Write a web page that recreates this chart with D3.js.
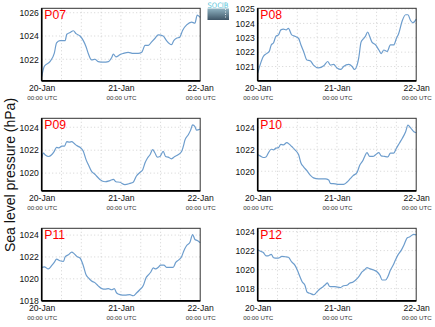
<!DOCTYPE html>
<html><head><meta charset="utf-8">
<script src="https://cdn.jsdelivr.net/npm/d3@7/dist/d3.min.js"></script>
<style>body{margin:0;background:#fff}svg{display:block;font-family:"Liberation Sans",Arial,sans-serif}</style>
</head><body><svg id="c" width="435" height="327"></svg>
<script>
// Station names
const stations = ["P07","P08","P09","P10","P11","P12"];
// Hours since 20-Jan 00:00 UTC, and sea level pressure (hPa)
const p07Hours = [0,0.8,2.5,3.8,4.5,5.5,7.1,7.6,8.6,9.6,10.4,11.6,12.6,13.4,14.1,15.1,16.1,17.1,18.7,20.2,21.2,21.7,22.5,23.7,24.7,26.2,27.7,29.2,30.3,31.3,32.3,33.3,34.3,35.3,36.8,37.8,39.3,40.0,40.8,41.8,42.7,43.9,45.4,46.4,47.1,48];
const p07Values = [1020.5,1021.4,1021.8,1022.5,1023.4,1023.6,1023.6,1024.15,1024.3,1024.45,1024.2,1024.0,1023.6,1023.1,1022.5,1021.95,1022.0,1021.8,1021.75,1021.8,1022.15,1022.45,1022.2,1022.4,1022.5,1022.6,1022.5,1022.5,1022.6,1023.2,1023.2,1023.5,1023.8,1024.1,1024.0,1023.6,1023.25,1023.6,1023.8,1023.9,1024.5,1024.95,1025.2,1025.1,1025.8,1025.6];
const p08Hours = [0,0.7,1.7,2.7,3.5,4.1,4.8,5.5,6.3,7.0,7.8,8.6,9.3,10.3,11.3,12.4,13.1,13.9,14.9,15.9,16.9,18.4,20.0,21.2,22.0,23.0,24.0,25.2,26.0,27.6,28.6,29.3,30.1,30.6,31.3,31.9,32.6,33.3,33.9,34.6,35.7,36.7,37.4,38.2,39.2,40.2,41.2,42.0,42.7,43.8,44.8,45.5,46.3,47.0,48];
const p08Values = [1020.54,1021.1,1021.7,1021.9,1022.05,1022.5,1022.65,1023.1,1023.2,1023.55,1023.6,1023.55,1023.65,1023.2,1023.1,1022.95,1022.5,1022.05,1021.45,1021.4,1021.1,1020.9,1021.05,1021.35,1021.1,1021.15,1020.9,1020.8,1021.0,1021.15,1021.0,1020.8,1021.1,1021.6,1022.7,1022.9,1023.1,1023.4,1023.1,1022.7,1022.5,1022.15,1021.9,1022.15,1022.05,1022.5,1022.5,1022.95,1023.3,1024.2,1024.6,1024.6,1024.2,1024.05,1024.3];
const p09Hours = [0,0.5,1.2,2.0,3.0,3.8,4.5,5.2,6.1,6.9,7.6,8.4,9.1,9.8,10.6,11.6,12.6,13.4,14.1,15.1,16.1,17.6,19.2,20.7,21.7,22.5,23.7,25.2,26.7,27.7,28.7,29.7,30.6,31.3,32.0,32.8,33.6,34.3,35.0,35.8,36.8,37.5,38.3,39.3,40.3,41.3,42.4,42.9,43.4,44.4,45.1,45.7,46.4,46.9,48];
const p09Values = [1021.3,1021.75,1021.55,1021.45,1021.6,1021.9,1022.25,1022.2,1022.35,1022.35,1022.75,1022.7,1022.75,1022.6,1022.4,1022.25,1021.9,1021.2,1020.75,1020.15,1019.9,1019.45,1019.25,1019.35,1019.45,1019.25,1019.2,1019.0,1019.1,1019.2,1019.75,1020.05,1020.3,1020.9,1021.3,1021.6,1022.05,1021.75,1021.4,1021.45,1021.9,1021.45,1021.4,1021.25,1021.45,1021.6,1021.9,1022.35,1022.9,1023.35,1023.75,1024.2,1024.05,1023.75,1023.85];
const p10Hours = [0,0.7,1.7,2.5,3.2,4.1,4.8,5.5,6.3,7.0,7.8,8.8,9.6,10.3,11.3,12.4,13.1,13.9,14.9,15.9,16.9,18.4,20.5,21.5,22.0,23.5,24.5,26.0,27.0,28.1,28.9,30.1,30.9,31.9,32.4,33.1,33.9,34.9,35.7,36.7,37.4,38.4,39.4,40.2,41.2,42.0,42.9,43.8,44.8,45.5,46.3,47.3,48];
const p10Values = [1021.5,1021.4,1021.25,1021.3,1021.65,1022.0,1021.95,1022.1,1022.15,1022.45,1022.4,1022.6,1022.45,1022.25,1021.95,1021.5,1020.75,1020.4,1020.05,1019.65,1019.4,1019.3,1019.3,1019.2,1018.9,1018.85,1018.8,1018.8,1019.0,1019.35,1019.6,1019.9,1020.55,1021.0,1021.35,1021.7,1021.35,1021.35,1021.5,1021.7,1021.4,1021.35,1021.3,1021.65,1021.65,1022.1,1022.55,1023.0,1023.6,1024.2,1023.95,1023.6,1023.5];
const p11Hours = [0,0.8,2.0,3.0,3.8,4.5,5.5,6.6,7.1,8.1,9.1,9.8,10.6,11.6,12.6,13.4,14.1,15.1,16.1,17.1,18.2,19.2,20.2,21.2,22.0,22.7,23.7,25.2,26.7,27.7,28.7,29.7,30.8,31.6,32.3,33.0,33.8,34.5,35.3,36.0,37.0,37.8,38.8,39.8,40.6,41.6,42.4,43.1,43.9,44.9,45.7,46.4,47.1,48];
const p11Values = [1021.05,1021.1,1020.9,1021.2,1021.5,1021.8,1021.65,1021.6,1022.0,1022.2,1022.45,1022.3,1022.05,1021.9,1021.2,1020.4,1020.1,1019.8,1019.65,1019.35,1019.1,1019.05,1019.1,1019.0,1019.1,1018.7,1018.55,1018.5,1018.55,1018.45,1018.7,1019.0,1019.4,1020.1,1020.35,1020.6,1021.0,1020.9,1021.05,1021.25,1021.25,1021.05,1021.05,1021.05,1021.5,1021.75,1022.05,1022.6,1023.05,1023.35,1024.05,1023.6,1023.5,1023.3];
const p12Hours = [0,0.7,1.7,2.5,3.2,4.1,4.8,5.8,6.6,7.3,8.3,9.3,10.3,11.3,12.0,12.8,13.5,14.3,15.0,15.8,17.0,17.8,18.8,19.8,20.6,21.1,21.7,22.4,23.4,25.0,26.0,27.0,27.8,28.9,30.1,30.9,31.6,32.3,33.1,33.9,35.1,36.2,37.0,37.7,38.7,39.4,40.2,41.0,41.7,42.4,43.5,44.3,45.3,46.1,46.8,47.3,48];
const p12Values = [1022.1,1021.95,1021.8,1021.45,1021.45,1021.6,1021.25,1021.2,1021.25,1021.4,1021.35,1021.3,1020.8,1020.45,1019.95,1019.25,1018.7,1018.35,1017.6,1017.5,1017.35,1017.6,1017.95,1018.2,1018.45,1018.6,1018.25,1018.2,1018.2,1018.1,1018.3,1018.35,1018.55,1018.7,1019.05,1019.4,1019.75,1019.95,1020.2,1020.1,1019.95,1019.75,1019.4,1018.9,1018.9,1019.25,1019.95,1020.45,1021.0,1021.5,1022.05,1022.6,1023.35,1023.45,1023.65,1023.7,1023.65];
// Y-axis ranges and tick values per station
const yMin = [1020.14,1020.0,1018.45,1018.21,1017.98,1016.7];
const yMax = [1026.38,1025.05,1024.78,1024.82,1024.62,1024.35];
const yTicks = [[1022,1024,1026],[1021,1022,1023,1024,1025],[1020,1022,1024],[1020,1022,1024],[1018,1020,1022,1024],[1018,1020,1022,1024]];
// X tick labels
const xTickLabels = ["20-Jan","21-Jan","22-Jan"];
const xTickSub = "00:00 UTC";
const yLabel = "Sea level pressure (hPa)";

const hoursList = [p07Hours,p08Hours,p09Hours,p10Hours,p11Hours,p12Hours];
const valuesList = [p07Values,p08Values,p09Values,p10Values,p11Values,p12Values];

const svg = d3.select("#c");
const t0 = Date.UTC(2014,0,20);
const toDate = h => new Date(t0 + h*3600e3);

const colX = [41.7, 257.7], pw = 158.5;
const rowY = [8.3, 118.3, 228.3], ph = 72.6;

stations.forEach((name, i) => {
  const cx = colX[i % 2], cy = rowY[Math.floor(i / 2)];
  const g = svg.append("g").attr("transform", `translate(${cx},${cy})`);
  const x = d3.scaleUtc().domain([toDate(0), toDate(48)]).range([0, pw]);
  const y = d3.scaleLinear().domain([yMin[i], yMax[i]]).range([ph, 0]);

  // grid
  const gridTimes = d3.range(0, 49, 6).map(toDate);
  g.append("g").selectAll("line").data(gridTimes.slice(1, -1)).join("line")
    .attr("x1", d => x(d)).attr("x2", d => x(d)).attr("y1", 0).attr("y2", ph)
    .attr("stroke", "#c8c8c8").attr("stroke-width", 0.8).attr("stroke-dasharray", "1,2.5");
  g.append("g").selectAll("line").data(yTicks[i]).join("line")
    .attr("x1", 0).attr("x2", pw).attr("y1", d => y(d)).attr("y2", d => y(d))
    .attr("stroke", "#c8c8c8").attr("stroke-width", 0.8).attr("stroke-dasharray", "1,2.5");

  // line
  const data = hoursList[i].map((h, k) => ({t: toDate(h), v: valuesList[i][k]}));
  g.append("path").datum(data)
    .attr("d", d3.line().x(d => x(d.t)).y(d => y(d.v)).curve(d3.curveMonotoneX))
    .attr("fill", "none").attr("stroke", "#6d9dcd").attr("stroke-width", 1.2);

  // frame
  g.append("rect").attr("x", 0).attr("y", 0).attr("width", pw).attr("height", ph)
    .attr("fill", "none").attr("stroke", "#333").attr("stroke-width", 1);
  g.append("line").attr("x1", 0).attr("x2", 0).attr("y1", 0).attr("y2", ph).attr("stroke", "#000").attr("stroke-width", 1.6);
  g.append("line").attr("x1", 0).attr("x2", pw).attr("y1", ph).attr("y2", ph).attr("stroke", "#000").attr("stroke-width", 1.6);

  // y axis
  const ya = d3.axisLeft(y).tickValues(yTicks[i]).tickSize(0).tickPadding(3).tickFormat(d3.format("d"));
  const yg = g.append("g").call(ya);
  yg.select(".domain").remove();
  yg.selectAll("text").attr("font-size", 8.6).attr("fill", "#111").attr("font-family", "Liberation Sans, Arial, sans-serif");

  // x axis labels
  const dayTimes = [0, 24, 48].map(toDate);
  const xa = d3.axisBottom(x).tickValues(dayTimes).tickSize(0).tickPadding(0).tickFormat((d, k) => xTickLabels[k]);
  const xg = g.append("g").attr("transform", `translate(0,${ph})`).call(xa);
  xg.select(".domain").remove();
  xg.selectAll("text").attr("dy", null).attr("y", 10.5).attr("font-size", 8.6).attr("fill", "#111")
    .attr("font-family", "Liberation Sans, Arial, sans-serif");
  xg.selectAll(".tick").append("text").attr("y", 19.5).attr("text-anchor", "middle")
    .attr("font-size", 6.2).attr("fill", "#333").attr("font-family", "Liberation Sans, Arial, sans-serif").text(xTickSub);

  // station label
  g.append("text").attr("x", 2.6).attr("y", 11).attr("fill", "#ff0000")
    .attr("font-size", 12.2).attr("font-family", "Liberation Sans, Arial, sans-serif").text(name);
});

// y label
svg.append("text").attr("transform", "translate(15,175) rotate(-90)").attr("text-anchor", "middle")
  .attr("font-size", 14).attr("fill", "#111").text(yLabel);

// logo
const defs = svg.append("defs");
const lg = defs.append("linearGradient").attr("id", "lg").attr("x1", 0).attr("y1", 0).attr("x2", 0).attr("y2", 1);
lg.append("stop").attr("offset", "0").attr("stop-color", "#8fb3c2");
lg.append("stop").attr("offset", "1").attr("stop-color", "#3e5566");
svg.append("rect").attr("x", 207.5).attr("y", 8.5).attr("width", 21.5).attr("height", 11.5).attr("fill", "url(#lg)");
svg.append("line").attr("x1", 225.5).attr("x2", 225.5).attr("y1", 9).attr("y2", 19).attr("stroke", "#fff").attr("stroke-width", 0.8).attr("stroke-dasharray", "1,1.5");
svg.append("text").attr("x", 218).attr("y", 8).attr("text-anchor", "middle").attr("font-size", 7.5)
  .attr("fill", "#5cc6da").attr("font-family", "DejaVu Sans Condensed, Liberation Sans Narrow, sans-serif").text("SOCIB");
</script></body></html>
